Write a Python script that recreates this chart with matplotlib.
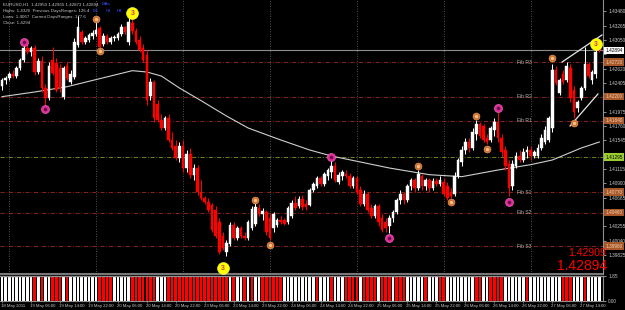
import matplotlib
matplotlib.use("Agg")
import matplotlib.pyplot as plt
from matplotlib.patches import Rectangle
from matplotlib.transforms import blended_transform_factory

plt.rcParams['font.family'] = ['Liberation Sans', 'DejaVu Sans']

# EURUSD H1, 18 May 22:00 -> 27 May 19:00
opens = [1.4236, 1.4245, 1.4248, 1.4254, 1.4251, 1.4263, 1.4275, 1.4293, 1.4287, 1.4293,
         1.4257, 1.4274, 1.4233, 1.4218, 1.4275, 1.4271, 1.4263, 1.4220, 1.4266, 1.4242,
         1.4250, 1.4298, 1.4317, 1.4302, 1.4305, 1.4311, 1.4314, 1.4323, 1.4299, 1.4311,
         1.4302, 1.4308, 1.4308, 1.4314, 1.4325, 1.4302, 1.4331, 1.4319, 1.4305, 1.4293,
         1.4283, 1.4221, 1.4242, 1.4209, 1.4185, 1.4173, 1.4188, 1.4155, 1.4146, 1.4128,
         1.4146, 1.4113, 1.4134, 1.4103, 1.4113, 1.4077, 1.4068, 1.4062, 1.4058, 1.4050,
         1.4032, 1.4011, 1.3987, 1.3999, 1.4028, 1.4008, 1.4023, 1.4011, 1.4008, 1.4023,
         1.4029, 1.4053, 1.4044, 1.4047, 1.4038, 1.4023, 1.4028, 1.4035, 1.4035, 1.4032,
         1.4041, 1.4061, 1.4056, 1.4067, 1.4059, 1.4058, 1.4080, 1.4086, 1.4098, 1.4089,
         1.4101, 1.4107, 1.4116, 1.4092, 1.4101, 1.4104, 1.4101, 1.4086, 1.4098, 1.4080,
         1.4059, 1.4074, 1.4053, 1.4041, 1.4056, 1.4038, 1.4032, 1.4026, 1.4038, 1.4047,
         1.4065, 1.4074, 1.4065, 1.4086, 1.4095, 1.4083, 1.4101, 1.4086, 1.4095, 1.4083,
         1.4094, 1.4089, 1.4092, 1.4086, 1.4077, 1.4074, 1.4101, 1.4122, 1.4140, 1.4152,
         1.4143, 1.4164, 1.4179, 1.4176, 1.4158, 1.4155, 1.4170, 1.4182, 1.4158, 1.4140,
         1.4119, 1.4086, 1.4116, 1.4131, 1.4125, 1.4137, 1.4140, 1.4131, 1.4131, 1.4143,
         1.4152, 1.4155, 1.4173, 1.4260, 1.4226, 1.4254, 1.4245, 1.4263, 1.4230, 1.4203,
         1.4218, 1.4233, 1.4269, 1.4245, 1.4254, 1.42950]
highs = [1.4248, 1.4251, 1.4257, 1.4260, 1.4266, 1.4278, 1.4298, 1.4299, 1.4296, 1.4298,
         1.4278, 1.4281, 1.4239, 1.4272, 1.4295, 1.4278, 1.4269, 1.4266, 1.4272, 1.4260,
         1.4308, 1.4341, 1.4320, 1.4311, 1.4316, 1.4320, 1.4332, 1.4326, 1.4316, 1.4314,
         1.4311, 1.4313, 1.4317, 1.4329, 1.4326, 1.4338, 1.4337, 1.4323, 1.4311, 1.4299,
         1.4290, 1.4248, 1.4245, 1.4215, 1.4194, 1.4191, 1.4194, 1.4167, 1.4155, 1.4152,
         1.4155, 1.4140, 1.4143, 1.4119, 1.4118, 1.4095, 1.4071, 1.4068, 1.4061, 1.4056,
         1.4038, 1.4017, 1.4005, 1.4032, 1.4032, 1.4026, 1.4026, 1.4017, 1.4035, 1.4056,
         1.4061, 1.4059, 1.4053, 1.4050, 1.4044, 1.4047, 1.4038, 1.4041, 1.4038, 1.4056,
         1.4065, 1.4071, 1.4071, 1.4073, 1.4065, 1.4083, 1.4092, 1.4101, 1.4101, 1.4107,
         1.4113, 1.4125, 1.4122, 1.4107, 1.4110, 1.4110, 1.4106, 1.4101, 1.4101, 1.4086,
         1.4080, 1.4077, 1.4059, 1.4059, 1.4059, 1.4044, 1.4038, 1.4043, 1.4050, 1.4068,
         1.4080, 1.4077, 1.4089, 1.4098, 1.4098, 1.4110, 1.4104, 1.4098, 1.4098, 1.4098,
         1.4098, 1.4101, 1.4098, 1.4092, 1.4083, 1.4107, 1.4128, 1.4146, 1.4158, 1.4158,
         1.4173, 1.4185, 1.4182, 1.4179, 1.4164, 1.4176, 1.4188, 1.4197, 1.4164, 1.4146,
         1.4125, 1.4125, 1.4137, 1.4140, 1.4143, 1.4146, 1.4146, 1.4140, 1.4149, 1.4164,
         1.4176, 1.4191, 1.4269, 1.4266, 1.4248, 1.4260, 1.4272, 1.4269, 1.4236, 1.4215,
         1.4236, 1.4295, 1.4272, 1.4260, 1.4290, 1.42965]
lows = [1.4230, 1.4239, 1.4245, 1.4248, 1.4248, 1.4260, 1.4272, 1.4284, 1.4281, 1.4253,
        1.4254, 1.4227, 1.4206, 1.4215, 1.4253, 1.4227, 1.4227, 1.4217, 1.4245, 1.4239,
        1.4247, 1.4295, 1.4299, 1.4299, 1.4302, 1.4307, 1.4311, 1.4292, 1.4296, 1.4299,
        1.4299, 1.4304, 1.4305, 1.4311, 1.4314, 1.4298, 1.4314, 1.4299, 1.4287, 1.4272,
        1.4208, 1.4215, 1.4182, 1.4182, 1.4170, 1.4170, 1.4152, 1.4140, 1.4125, 1.4122,
        1.4107, 1.4107, 1.4098, 1.4095, 1.4073, 1.4065, 1.4059, 1.4047, 1.4017, 1.4008,
        1.3984, 1.3990, 1.3981, 1.3996, 1.4005, 1.4005, 1.4008, 1.4005, 1.4005, 1.4020,
        1.4026, 1.4041, 1.4035, 1.4013, 1.4005, 1.4017, 1.4025, 1.4029, 1.4028, 1.4029,
        1.4038, 1.4050, 1.4053, 1.4050, 1.4050, 1.4056, 1.4077, 1.4083, 1.4086, 1.4086,
        1.4095, 1.4098, 1.4092, 1.4089, 1.4095, 1.4098, 1.4083, 1.4083, 1.4074, 1.4056,
        1.4056, 1.4047, 1.4038, 1.4038, 1.4026, 1.4017, 1.4017, 1.4016, 1.4032, 1.4044,
        1.4059, 1.4059, 1.4062, 1.4080, 1.4077, 1.4080, 1.4080, 1.4080, 1.4077, 1.4080,
        1.4086, 1.4086, 1.4071, 1.4065, 1.4068, 1.4071, 1.4098, 1.4116, 1.4134, 1.4137,
        1.4140, 1.4155, 1.4158, 1.4152, 1.4149, 1.4152, 1.4161, 1.4152, 1.4131, 1.4110,
        1.4071, 1.4080, 1.4113, 1.4122, 1.4122, 1.4128, 1.4125, 1.4128, 1.4128, 1.4140,
        1.4149, 1.4152, 1.4167, 1.4238, 1.4223, 1.4239, 1.4242, 1.4212, 1.4188, 1.4197,
        1.4215, 1.4230, 1.4248, 1.4239, 1.4248, 1.42873]
closes = [1.4245, 1.4248, 1.4254, 1.4251, 1.4263, 1.4275, 1.4293, 1.4287, 1.4293, 1.4257,
          1.4274, 1.4233, 1.4218, 1.4266, 1.4256, 1.4230, 1.4233, 1.4263, 1.4248, 1.4254,
          1.4302, 1.4325, 1.4302, 1.4308, 1.4313, 1.4316, 1.4320, 1.4295, 1.4311, 1.4302,
          1.4308, 1.4310, 1.4314, 1.4325, 1.4317, 1.4332, 1.4319, 1.4302, 1.4290, 1.4275,
          1.4215, 1.4242, 1.4188, 1.4185, 1.4173, 1.4188, 1.4155, 1.4143, 1.4128, 1.4146,
          1.4113, 1.4134, 1.4103, 1.4113, 1.4077, 1.4068, 1.4062, 1.4050, 1.4020, 1.4011,
          1.3987, 1.3993, 1.4001, 1.4028, 1.4008, 1.4023, 1.4011, 1.4008, 1.4032, 1.4052,
          1.4055, 1.4044, 1.4049, 1.4017, 1.4008, 1.4044, 1.4035, 1.4032, 1.4029, 1.4053,
          1.4061, 1.4053, 1.4067, 1.4055, 1.4055, 1.4080, 1.4089, 1.4098, 1.4089, 1.4104,
          1.4110, 1.4116, 1.4095, 1.4103, 1.4107, 1.4101, 1.4086, 1.4098, 1.4077, 1.4059,
          1.4074, 1.4050, 1.4041, 1.4056, 1.4032, 1.4020, 1.4023, 1.4038, 1.4047, 1.4065,
          1.4074, 1.4065, 1.4086, 1.4095, 1.4083, 1.4104, 1.4086, 1.4095, 1.4083, 1.4094,
          1.4089, 1.4095, 1.4074, 1.4068, 1.4071, 1.4101, 1.4125, 1.4140, 1.4152, 1.4143,
          1.4167, 1.4179, 1.4161, 1.4155, 1.4152, 1.4173, 1.4182, 1.4158, 1.4137, 1.4116,
          1.4083, 1.4119, 1.4131, 1.4125, 1.4137, 1.4140, 1.4131, 1.4137, 1.4143, 1.4158,
          1.4170, 1.4188, 1.4260, 1.4241, 1.4245, 1.4242, 1.4266, 1.4218, 1.4197, 1.4212,
          1.4233, 1.4269, 1.4251, 1.4257, 1.4287, 1.42894]

# lower indicator panel: colour runs (W = white, R = red), all bars full height
hist_runs = [("W", 9), ("R", 1), ("W", 1), ("R", 1), ("W", 2), ("R", 3), ("W", 1), ("R", 1),
             ("W", 8), ("R", 4), ("W", 5), ("R", 7), ("W", 3), ("R", 17), ("W", 1), ("R", 1),
             ("W", 2), ("R", 1), ("W", 1), ("R", 1), ("W", 2), ("R", 6), ("W", 9), ("R", 1),
             ("W", 3), ("R", 1), ("W", 3), ("R", 4), ("W", 1), ("R", 4), ("W", 1), ("R", 3),
             ("W", 1), ("R", 3), ("W", 5), ("R", 1), ("W", 3), ("R", 2), ("W", 8), ("R", 2),
             ("W", 2), ("R", 4), ("W", 6), ("R", 1), ("W", 9), ("R", 3), ("W", 3), ("R", 1),
             ("W", 4)]
hist_height = 1.85

ma_bars = [0, 9, 18, 27, 36, 40, 44, 49, 55, 62, 68, 77, 85, 91, 99, 107, 118, 127, 137, 146, 152, 160, 165]
ma_vals = [1.4220, 1.4227, 1.4235, 1.4247, 1.4259, 1.4257, 1.4251, 1.4233, 1.4214, 1.4191, 1.4173, 1.4155,
           1.4140, 1.4131, 1.4122, 1.4113, 1.4103, 1.4100, 1.4110, 1.4118, 1.4125, 1.4143, 1.4152]

fib_names = ["Fib R3", "Fib R2", "Fib R1", "Fib S1", "Fib S2", "Fib S3"]
fib_levels = [1.4272, 1.4220, 1.4184, 1.4077, 1.4046, 1.3996]
ma_level = 1.41295
bid = 1.42894

pink_bars = [6, 12, 91, 107, 137, 140]
pink_vals = [1.4302, 1.4202, 1.41295, 1.4008, 1.4203, 1.4062]
orange_bars = [26, 27, 70, 74, 115, 124, 131, 134, 152, 158]
orange_vals = [1.43365, 1.42885, 1.4065, 1.39975, 1.4116, 1.4062, 1.4191, 1.41415, 1.4278, 1.41805]
yellow_bars = [36, 61, 164]
yellow_vals = [1.43455, 1.3963, 1.4299]

trend_bars = [[154.7, 165.7], [156.9, 164.6]]
trend_vals = [[1.4272, 1.43125], [1.4176, 1.4224]]

day_bars = [2, 26, 50, 74, 98, 122, 146]
date_labels = ["18 May 2011", "19 May 06:00", "19 May 14:00", "19 May 22:00", "20 May 06:00",
               "20 May 14:00", "20 May 22:00", "23 May 06:00", "23 May 14:00", "23 May 22:00",
               "24 May 06:00", "24 May 14:00", "24 May 22:00", "25 May 06:00", "25 May 14:00",
               "25 May 22:00", "26 May 06:00", "26 May 14:00", "26 May 22:00", "27 May 06:00",
               "27 May 14:00"]

info_lines = ["EURUSD,H1  1.42950 1.42965 1.42873 1.42894",
              "Highs: 1.4326  Previous DaysRanges: 126.4",
              "Lows: 1.4067  Current DaysRanges: 177.6",
              "Close: 1.4294"]

GREY = "#c8c8c8"
SMALL = ["Liberation Sans Narrow", "Liberation Sans", "DejaVu Sans"]
n = len(closes)

fig = plt.figure(figsize=(6.25, 3.10), dpi=100, facecolor="black")
ax = fig.add_axes([0, 0.1161, 0.9648, 0.8839], facecolor="black")
ax2 = fig.add_axes([0, 0.029, 0.9648, 0.0806], facecolor="black")

for a in (ax, ax2):
    a.set_xlim(-0.55, 166.0)
    for s in ("left", "top"):
        a.spines[s].set_visible(False)
    for s in ("right", "bottom"):
        a.spines[s].set_color("#909090")
        a.spines[s].set_linewidth(0.8)
    a.yaxis.tick_right()
    a.tick_params(axis="y", labelsize=3.4, colors=GREY, length=2, width=0.5, pad=1.8)
    for b in day_bars:
        a.axvline(b, color="#6a6a6a", lw=0.6, ls=(0, (1, 2)), zorder=0)

ax.set_ylim(1.3954, 1.4365)
box_levels = [bid, ma_level] + fib_levels
price_ticks = [1.43480 - 0.00215 * k for k in range(18)]
ax.set_yticks(price_ticks)
# labels hidden where a level box sits on the scale
ax.set_yticklabels(["" if min(abs(t - b) for b in box_levels) < 0.0008 else "%.5f" % t
                    for t in price_ticks])
ax.set_xticks([])
ax.spines["bottom"].set_linewidth(1.2)

# levels
ax.axhline(bid, color="#8c8c8c", lw=0.8, zorder=1)
for lv, name in zip(fib_levels, fib_names):
    ax.axhline(lv, color="#9a2a20", lw=0.6, ls=(0, (5, 2, 1, 2)), zorder=1)
    ax.text(142.3, lv, name, fontsize=3.6, color="#b4b4b4", va="center", ha="left", zorder=6)
ax.axhline(ma_level, color="#7a9a20", lw=0.6, ls=(0, (5, 2, 1, 2)), zorder=1)

ax.plot(ma_bars, ma_vals, color="#cfcfcf", lw=0.8, zorder=2)

# candles
for i in range(n):
    o, h, l, c = opens[i], highs[i], lows[i], closes[i]
    col = "white" if c >= o else "#ff0000"
    ax.vlines(i, l, h, color=col, lw=0.75, zorder=3)
    ax.add_patch(Rectangle((i - 0.36, min(o, c)), 0.72, max(abs(c - o), 0.00004),
                           facecolor=col, edgecolor=col, lw=0.3, zorder=4))

for tb, tv in zip(trend_bars, trend_vals):
    ax.plot(tb, tv, color="#e8e8e8", lw=0.9, zorder=5)

ax.plot(pink_bars, pink_vals, "o", ms=5.8, mfc="#e02c9c", mec="#ff70c8", mew=0.4, zorder=7)
ax.plot(pink_bars, pink_vals, "o", ms=1.6, color="#6e1048", zorder=8)
ax.plot(orange_bars, orange_vals, "o", ms=5.0, mfc="#d0702a", mec="#f0a060", mew=0.4, zorder=7)
ax.plot(orange_bars, orange_vals, "o", ms=1.4, color="#f6c090", zorder=8)
ax.plot(yellow_bars, yellow_vals, "o", ms=8.6, mfc="#ffff00", mec="#ffff40", mew=0.4, zorder=7)
for b, v in zip(yellow_bars, yellow_vals):
    ax.text(b, v, "3", fontsize=5, fontweight="bold", color="#e0306a", ha="center", va="center", zorder=9)

# right axis boxes
tr = blended_transform_factory(ax.transAxes, ax.transData)
def axis_box(val, fc, tc):
    ax.text(1.004, val, "%.5f" % val, transform=tr, fontsize=3.4, color=tc, ha="left", va="center",
            clip_on=False, zorder=10, bbox=dict(boxstyle="square,pad=0.25", fc=fc, ec="none"))
axis_box(bid, "white", "black")
for lv in fib_levels:
    axis_box(lv, "#a8582a", "#f0d0b0")
axis_box(ma_level, "#9acd32", "black")

# texts
for k, line in enumerate(info_lines):
    fig.text(3 / 625, 1 - (5 + 6 * k) / 310, line, fontsize=3.2, color=GREY, va="center", ha="left",
             family=SMALL)
fig.text(102 / 625, 1 - 4 / 310, "MAs", fontsize=3.2, color="#3050ff", va="center", ha="left", family=SMALL)
for lab, xx in zip(["M5", "H1", "H4"], [93, 106, 117]):
    fig.text(xx / 625, 1 - 11 / 310, lab, fontsize=3.2, color="#3050ff", va="center", ha="left", family=SMALL)
fig.text(606 / 625, 1 - 253 / 310, "1.42909", fontsize=7.5, color="#ff0000", ha="right", va="center")
fig.text(607 / 625, 1 - 266 / 310, "1.42894", fontsize=10, color="#ff0000", ha="right", va="center")

# lower panel
hist_colors = []
for c, k in hist_runs:
    hist_colors += ["white" if c == "W" else "#ff0000"] * k
ax2.bar(range(len(hist_colors)), [hist_height] * len(hist_colors), width=0.72, color=hist_colors, zorder=2)
ax2.set_ylim(0, hist_height)
ax2.set_yticks([hist_height, 0.0])
ax2.set_yticklabels(["1.85", "0.00"])
ax2.spines["top"].set_visible(True)
ax2.spines["top"].set_color("#909090")
ax2.spines["top"].set_linewidth(1.0)
ax2.set_xticks(range(0, 8 * len(date_labels), 8))
ax2.set_xticklabels([])
ax2.tick_params(axis="x", length=1.5, width=0.5, colors="#909090")
trx = blended_transform_factory(ax2.transData, ax2.transAxes)
for k, lab in enumerate(date_labels):
    ax2.text(8 * k - 0.3, -0.12, lab, transform=trx, fontsize=3.1, color=GREY, ha="left", va="top",
             clip_on=False, family=SMALL)

fig.savefig("out.png", dpi=100, facecolor="black")
